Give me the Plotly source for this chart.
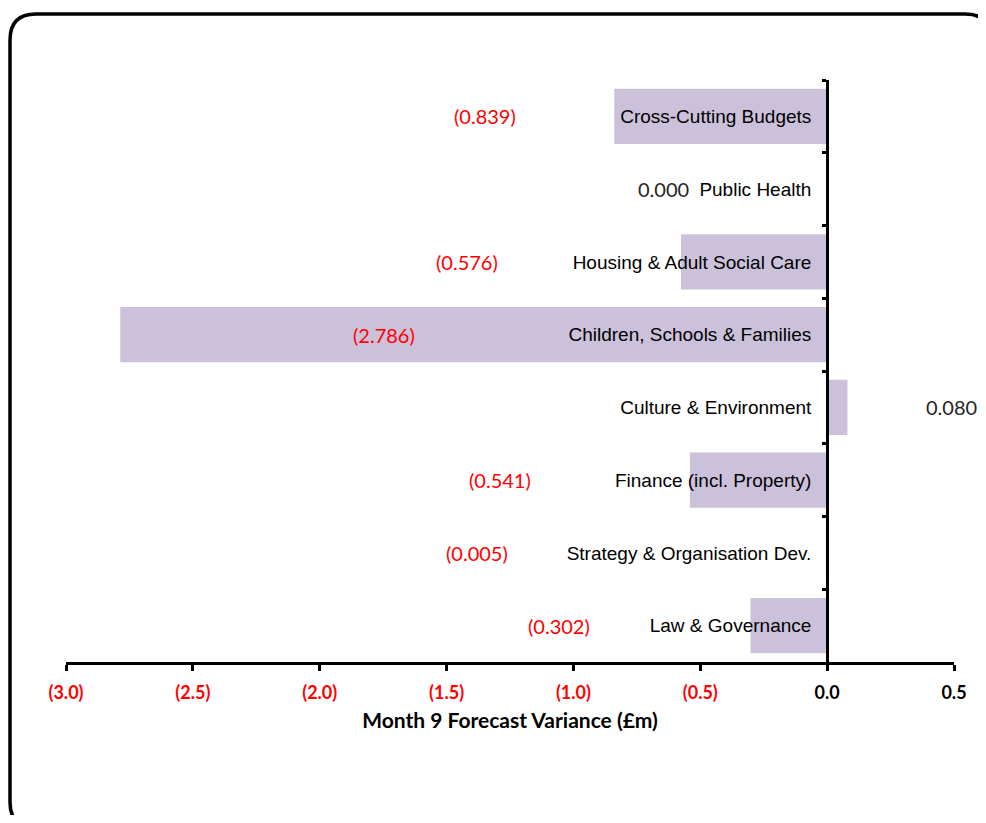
import plotly.graph_objects as go

categories = [
    "Cross-Cutting Budgets",
    "Public Health",
    "Housing & Adult Social Care",
    "Children, Schools & Families",
    "Culture & Environment",
    "Finance (incl. Property)",
    "Strategy & Organisation Dev.",
    "Law & Governance",
]
variance = [-0.839, 0.000, -0.576, -2.786, 0.080, -0.541, -0.005, -0.302]
tick_vals = [-3.0, -2.5, -2.0, -1.5, -1.0, -0.5, 0.0, 0.5]
axis_title = "Month 9 Forecast Variance (£m)"

# label horizontal offsets in pixels from the bar end (style only)
label_shift = [-129, -164, -214, 264, 104, -190, -349, -192]

# page has an 8px body margin, so the figure is made smaller
W, H = 978, 807
ML, MR, MT, MB = 58, 32, 72, 153
PW, PH = W - ML - MR, H - MT - MB
OFF = 8


def fmt(v):
    return f"({abs(v):.3f})" if v < 0 else f"{v:.3f}"


def tick_fmt(v):
    if v < 0:
        return f"<span style='color:#FF0000'><b>({abs(v):.1f})</b></span>"
    return f"<b>{v:.1f}</b>"


fig = go.Figure()
fig.add_trace(go.Bar(
    x=variance, y=categories, orientation="h",
    marker=dict(color="#CCC1DA", line=dict(width=0)),
    width=0.76, hoverinfo="skip",
))

for cat, v, dx in zip(categories, variance, label_shift):
    fig.add_annotation(
        x=v, y=cat, xref="x", yref="y", text=fmt(v), showarrow=False,
        xshift=dx, xanchor="center", yanchor="middle",
        font=dict(family="Lato, Open Sans, sans-serif", size=20,
                  color="#FF0000" if v < 0 else "#262626"),
    )


# rounded outer frame (paper coords), given in page pixels
def px2x(px):
    return (px - OFF - ML) / PW


def py2y(py):
    return (H - MB - (py - OFF)) / PH


x0, x1 = px2x(10), px2x(991)
y0, y1 = py2y(828), py2y(14)
rx, ry = 26 / PW, 26 / PH
path = (f"M {x0 + rx} {y1} L {x1 - rx} {y1} Q {x1} {y1} {x1} {y1 - ry} "
        f"L {x1} {y0 + ry} Q {x1} {y0} {x1 - rx} {y0} "
        f"L {x0 + rx} {y0} Q {x0} {y0} {x0} {y0 + ry} "
        f"L {x0} {y1 - ry} Q {x0} {y1} {x0 + rx} {y1} Z")
fig.add_shape(type="path", path=path, xref="paper", yref="paper",
              line=dict(color="black", width=3.5), layer="above")

zero_pos = (0 - tick_vals[0]) / (tick_vals[-1] - tick_vals[0])

fig.update_layout(
    width=W, height=H,
    margin=dict(l=ML, r=MR, t=MT, b=MB),
    paper_bgcolor="white", plot_bgcolor="white",
    showlegend=False, bargap=0.24,
    xaxis=dict(
        range=[tick_vals[0], tick_vals[-1]], tickmode="array",
        tickvals=tick_vals, ticktext=[tick_fmt(v) for v in tick_vals],
        showline=True, linecolor="black", linewidth=3,
        ticks="outside", ticklen=6, tickwidth=3, tickcolor="black",
        ticklabelstandoff=6,
        showgrid=False, zeroline=False,
        tickfont=dict(family="Lato, Open Sans, sans-serif", size=18, color="black"),
        title=dict(text=f"<b>{axis_title}</b>", standoff=12,
                   font=dict(family="Lato, Open Sans, sans-serif", size=21, color="black")),
    ),
    yaxis=dict(
        type="category", categoryorder="array", categoryarray=categories,
        autorange="reversed", anchor="free", position=zero_pos, side="left",
        showline=True, linecolor="black", linewidth=3,
        ticks="outside", ticklen=4, tickwidth=3, tickcolor="black",
        tickson="boundaries", ticklabelstandoff=11,
        showgrid=False, zeroline=False,
        tickfont=dict(family="Liberation Sans, Arial, sans-serif", size=19, color="black"),
    ),
)

fig.write_html("out.html")
